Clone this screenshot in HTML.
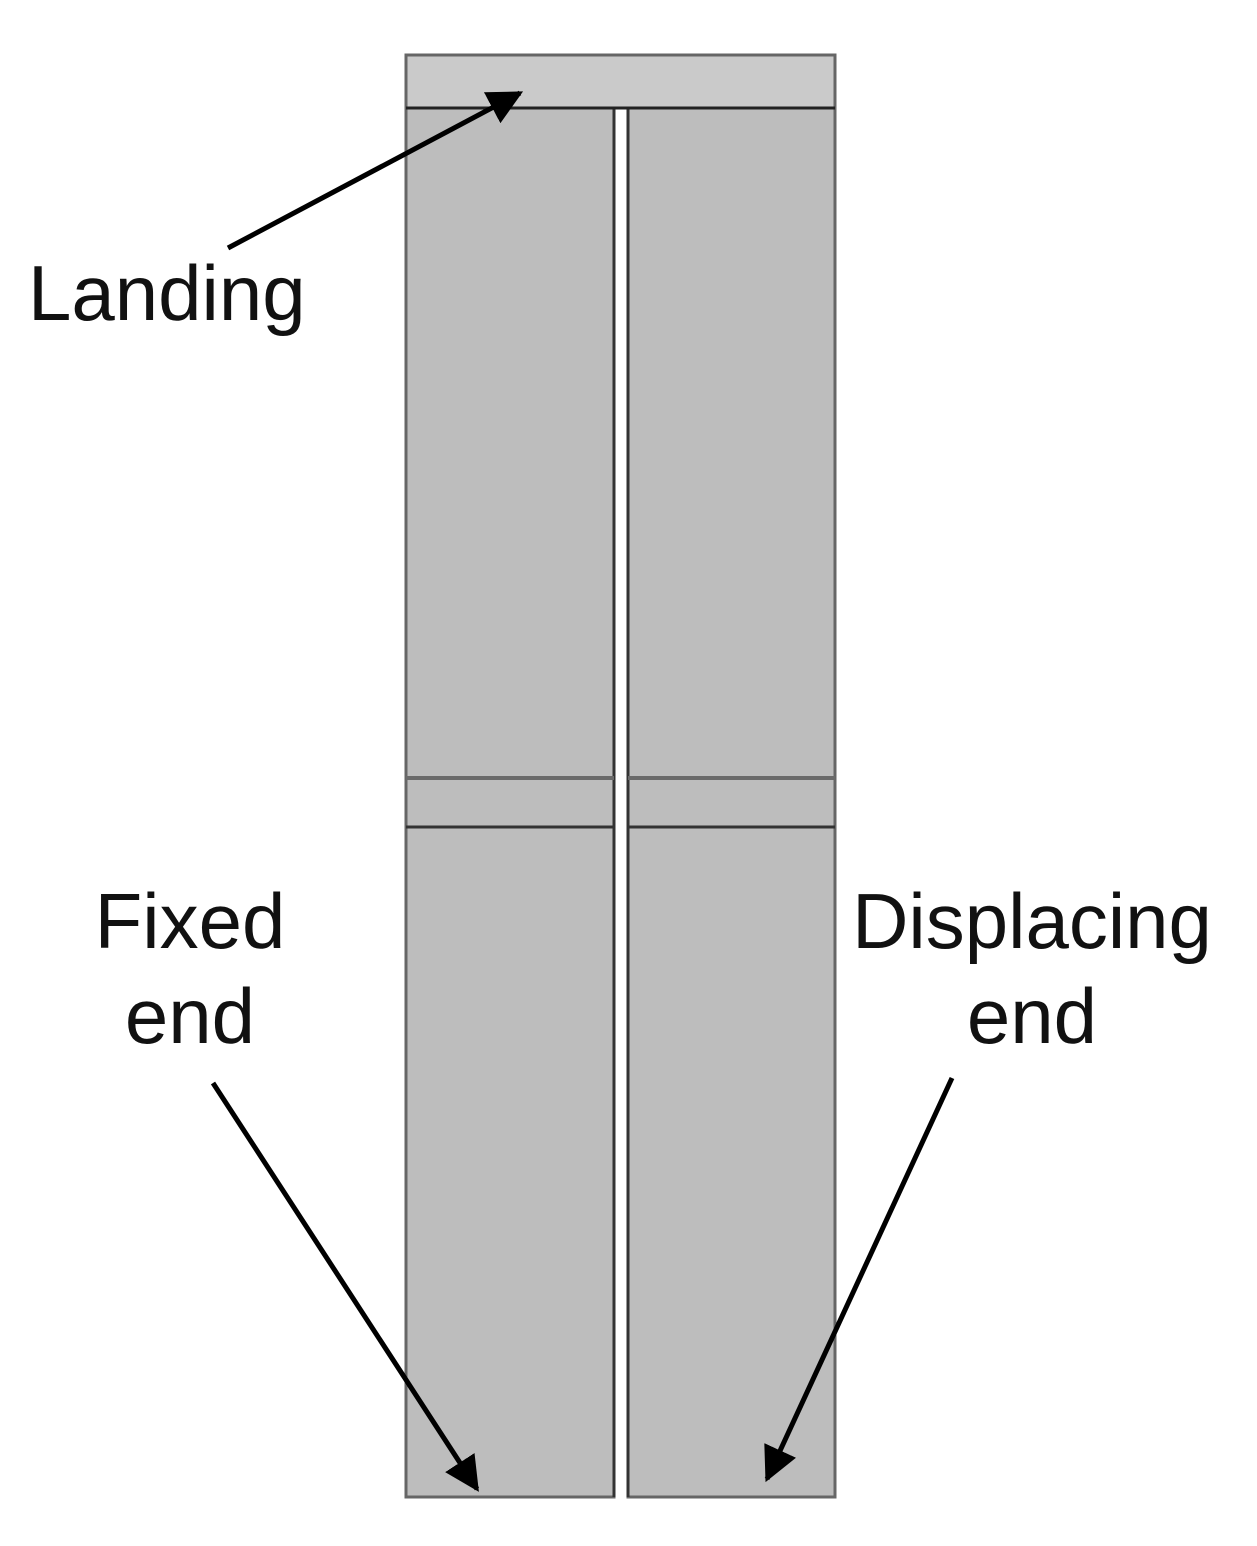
<!DOCTYPE html>
<html><head><meta charset="utf-8"><style>
html,body{margin:0;padding:0;background:#fff}
svg{display:block}
text{font-family:"Liberation Sans",sans-serif;font-size:78px;fill:#111}
</style></head><body>
<svg width="1257" height="1546" viewBox="0 0 1257 1546" xmlns="http://www.w3.org/2000/svg">
<defs>
<marker id="ah" viewBox="0 0 10 10" refX="9" refY="5" markerWidth="7" markerHeight="7" orient="auto" markerUnits="strokeWidth">
<path d="M0,0 L10,5 L0,10 z" fill="#000"/></marker>
</defs>
<rect x="406" y="55" width="429" height="53" fill="#cacaca" stroke="#666" stroke-width="3"/>
<rect x="406" y="108" width="208" height="1389" fill="#bdbdbd" stroke="#666" stroke-width="3"/>
<rect x="628" y="108" width="207" height="1389" fill="#bdbdbd" stroke="#666" stroke-width="3"/>
<line x1="614" y1="108" x2="614" y2="1497" stroke="#333" stroke-width="3"/>
<line x1="628" y1="108" x2="628" y2="1497" stroke="#333" stroke-width="3"/>
<line x1="406" y1="108" x2="835" y2="108" stroke="#222" stroke-width="3"/>
<line x1="406" y1="778" x2="614" y2="778" stroke="#6a6a6a" stroke-width="4"/>
<line x1="628" y1="778" x2="835" y2="778" stroke="#6a6a6a" stroke-width="4"/>
<line x1="406" y1="827" x2="614" y2="827" stroke="#333" stroke-width="3"/>
<line x1="628" y1="827" x2="835" y2="827" stroke="#333" stroke-width="3"/>
<line x1="228" y1="248" x2="520" y2="93" stroke="#000" stroke-width="5" marker-end="url(#ah)"/>
<line x1="213" y1="1083" x2="477" y2="1489" stroke="#000" stroke-width="5" marker-end="url(#ah)"/>
<line x1="952" y1="1078" x2="767" y2="1479" stroke="#000" stroke-width="5" marker-end="url(#ah)"/>
<text x="28" y="320">Landing</text>
<text x="190" y="948" text-anchor="middle">Fixed</text>
<text x="190" y="1043" text-anchor="middle">end</text>
<text x="1032" y="948" text-anchor="middle">Displacing</text>
<text x="1032" y="1043" text-anchor="middle">end</text>
</svg>
</body></html>
